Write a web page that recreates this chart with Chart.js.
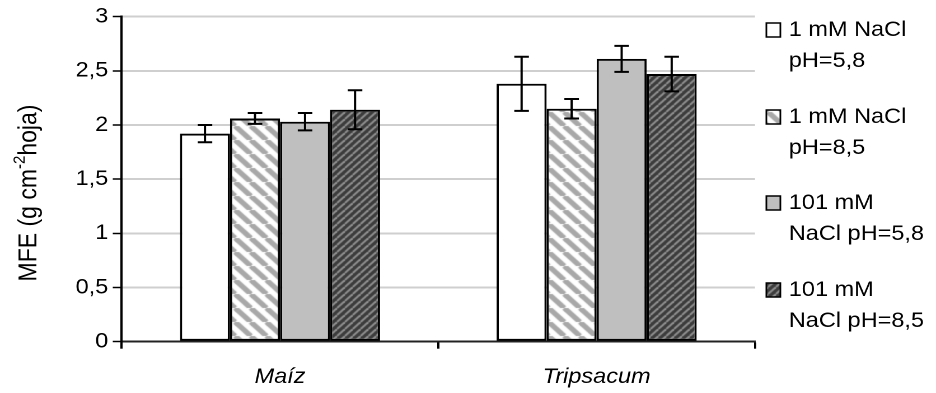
<!DOCTYPE html>
<html>
<head>
<meta charset="utf-8">
<script src="https://cdn.jsdelivr.net/npm/chart.js@4.4.1/dist/chart.umd.min.js"></script>
<style>
    html, body { margin: 0; padding: 0; background: #fff; }
    /* chart is drawn narrower and stretched to the page width */
    #wrap { width: 836px; height: 393px; transform: scaleX(1.1196); transform-origin: 0 0; }
</style>
</head>
<body>
<div id="wrap"><canvas id="mfeChart" width="836" height="393"></canvas></div>
<script>
// Categories and series
const categories = ['Maíz', 'Tripsacum'];
const legendLines = [
    ['1 mM NaCl', 'pH=5,8'],
    ['1 mM NaCl', 'pH=8,5'],
    ['101 mM', 'NaCl pH=5,8'],
    ['101 mM', 'NaCl pH=8,5']
];
const seriesNames = ['1 mM NaCl pH=5,8', '1 mM NaCl pH=8,5', '101 mM NaCl pH=5,8', '101 mM NaCl pH=8,5'];

// MFE means
const mfe1mM58 = [1.92, 2.38];
const mfe1mM85 = [2.06, 2.15];
const mfe101mM58 = [2.03, 2.61];
const mfe101mM85 = [2.14, 2.47];

// error (+/-)
const err1mM58 = [0.08, 0.25];
const err1mM85 = [0.05, 0.09];
const err101mM58 = [0.08, 0.12];
const err101mM85 = [0.18, 0.16];

const yTickLabels = ['0', '0,5', '1', '1,5', '2', '2,5', '3'];

const FONT = "'Liberation Sans', Arial, sans-serif";

// hatch fills
function makeStripes(size, bg, fg, lw, dir) {
    const c = document.createElement('canvas');
    c.width = size; c.height = size;
    const g = c.getContext('2d');
    g.fillStyle = bg;
    g.fillRect(0, 0, size, size);
    g.strokeStyle = fg;
    g.lineWidth = lw;
    for (let k = -size; k <= size; k += size) {
        g.beginPath();
        if (dir === 'down') {
            g.moveTo(k, 0); g.lineTo(k + size, size);
        } else {
            g.moveTo(k, size); g.lineTo(k + size, 0);
        }
        g.stroke();
    }
    return g.createPattern(c, 'repeat');
}

const fills = [
    '#ffffff',
    makeStripes(14, '#ffffff', '#a8a8a8', 5, 'down'),
    '#bfbfbf',
    makeStripes(7, '#3c3c3c', '#959595', 1.8, 'up')
];

const values = [mfe1mM58, mfe1mM85, mfe101mM58, mfe101mM85];
const errors = [err1mM58, err1mM85, err101mM58, err101mM85];

// error bars on top of each bar
const errorBars = {
    id: 'errorBars',
    afterDatasetsDraw(chart) {
        const ctx = chart.ctx;
        const y = chart.scales.y;
        ctx.save();
        ctx.strokeStyle = '#000';
        ctx.lineWidth = 2;
        errors.forEach((errs, i) => {
            chart.getDatasetMeta(i).data.forEach((bar, j) => {
                const v = values[i][j];
                const top = y.getPixelForValue(v + errs[j]);
                const bot = y.getPixelForValue(v - errs[j]);
                const half = 6.5;
                ctx.beginPath();
                ctx.moveTo(bar.x, top); ctx.lineTo(bar.x, bot);
                ctx.moveTo(bar.x - half, top); ctx.lineTo(bar.x + half, top);
                ctx.moveTo(bar.x - half, bot); ctx.lineTo(bar.x + half, bot);
                ctx.stroke();
            });
        });
        ctx.restore();
    }
};

// y title with superscript and the two-line legend on the right
const extras = {
    id: 'extras',
    afterDraw(chart) {
        const ctx = chart.ctx;
        ctx.save();

        // axis title
        const big = '23px ' + FONT, small = '15px ' + FONT;
        const parts = [['MFE (g cm', big, 0], ['-2', small, -8], ['hoja)', big, 0]];
        let total = 0;
        parts.forEach(p => { ctx.font = p[1]; total += ctx.measureText(p[0]).width; });
        ctx.translate(26, 193);
        ctx.rotate(-Math.PI / 2);
        ctx.fillStyle = '#000';
        ctx.textBaseline = 'middle';
        let x = -total / 2;
        parts.forEach(p => {
            ctx.font = p[1];
            ctx.fillText(p[0], x, p[2]);
            x += ctx.measureText(p[0]).width;
        });
        ctx.setTransform(chart.currentDevicePixelRatio, 0, 0, chart.currentDevicePixelRatio, 0, 0);

        // legend
        const firstLine = [30, 117, 203, 290];
        ctx.font = '21px ' + FONT;
        ctx.textBaseline = 'middle';
        legendLines.forEach((lines, i) => {
            const y0 = firstLine[i];
            ctx.fillStyle = fills[i];
            ctx.fillRect(684.5, y0 - 7, 12.5, 14);
            ctx.strokeStyle = '#000';
            ctx.lineWidth = 1.5;
            ctx.strokeRect(684.5, y0 - 7, 12.5, 14);
            ctx.fillStyle = '#000';
            lines.forEach((t, k) => ctx.fillText(t, 704.5, y0 + k * 31));
        });
        ctx.restore();
    }
};

new Chart(document.getElementById('mfeChart').getContext('2d'), {
    type: 'bar',
    data: {
        labels: categories,
        datasets: values.map((v, i) => ({
            label: seriesNames[i],
            data: v,
            backgroundColor: fills[i],
            borderColor: '#000',
            borderWidth: 2,
            borderSkipped: false,
            categoryPercentage: 0.632,
            barPercentage: 1
        }))
    },
    options: {
        responsive: false,
        animation: false,
        devicePixelRatio: 2,
        layout: { padding: { left: 0, right: 836 - 674.3, top: 16, bottom: 0 } },
        plugins: {
            legend: { display: false },
            tooltip: { enabled: false }
        },
        scales: {
            x: {
                afterFit: s => { s.height = 393 - 341.7; },
                grid: { offset: true, drawOnChartArea: false, tickLength: 7, tickColor: '#000', tickWidth: 2 },
                border: { color: '#222', width: 2 },
                ticks: { color: '#000', padding: 16, font: { family: FONT, size: 21, style: 'italic' } }
            },
            y: {
                min: 0,
                max: 3,
                afterFit: s => { s.width = 108.7; },
                afterBuildTicks: s => { s.ticks = yTickLabels.map((t, i) => ({ value: i * 0.5 })); },
                grid: { color: '#cfcfcf', lineWidth: 2, tickLength: 8, tickColor: '#000', tickWidth: 1.5 },
                border: { color: '#000', width: 2 },
                ticks: {
                    color: '#000',
                    padding: 4,
                    font: { family: FONT, size: 21 },
                    callback: (v, i) => yTickLabels[i]
                }
            }
        }
    },
    plugins: [errorBars, extras]
});
</script>
</body>
</html>
